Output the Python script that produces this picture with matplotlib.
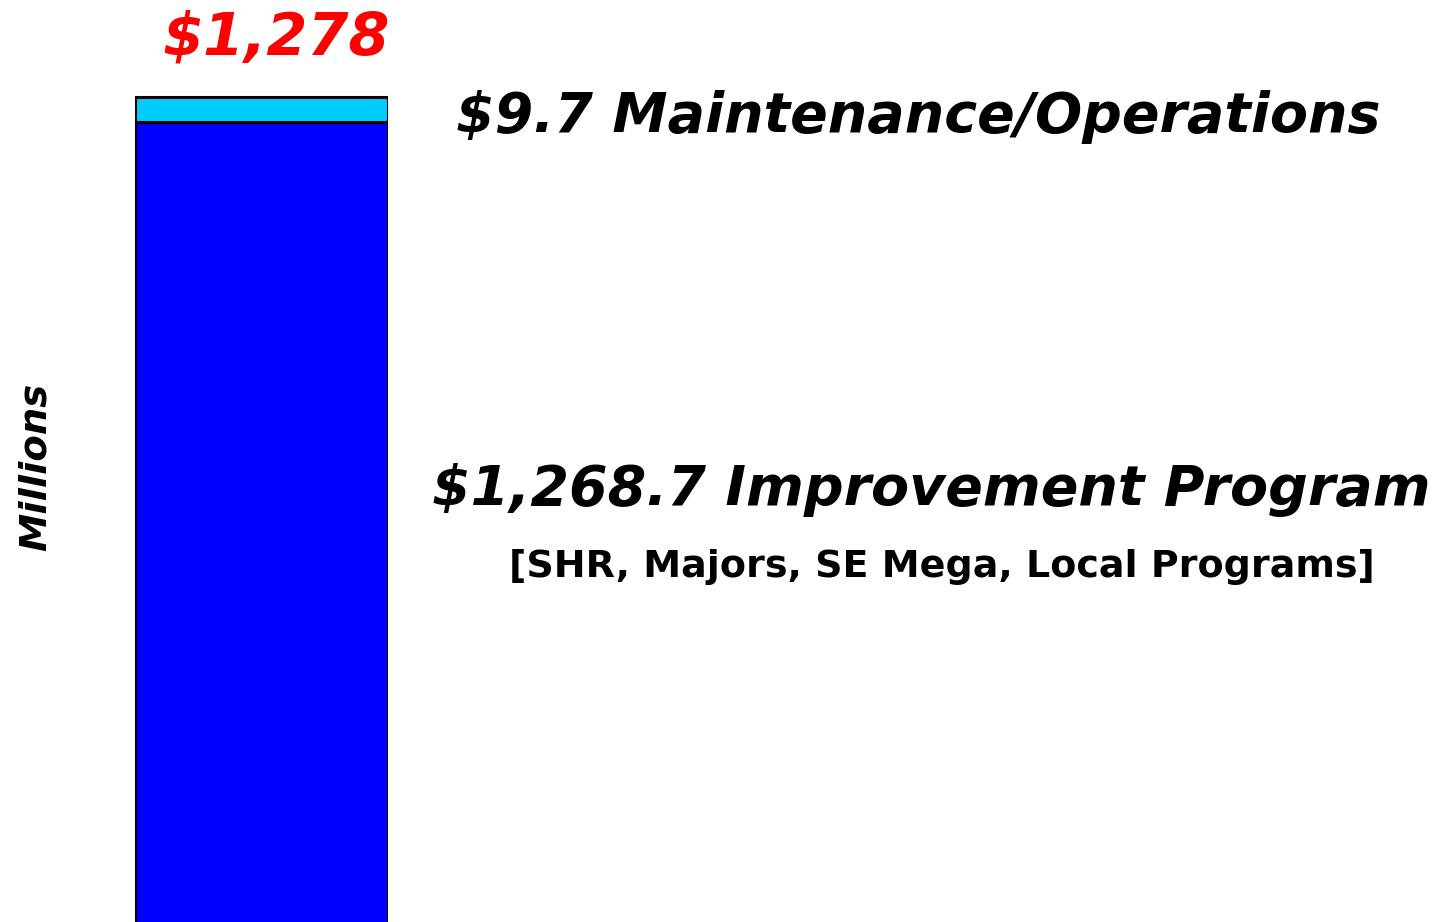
import matplotlib.pyplot as plt

W, H = 1439, 922

segments = ["Improvement Program", "Maintenance/Operations"]
values = [1268.7, 9.7]
colors = ["#0000FF", "#00CCFF"]
total_label = "$1,278"
seg_labels = ["$1,268.7 Improvement Program", "$9.7 Maintenance/Operations"]
sub_label = "[SHR, Majors, SE Mega, Local Programs]"

# axis range that reproduces the cropped view of the original slide
y_lo, y_hi = 958.1, 1316.0

fig = plt.figure(figsize=(W / 100, H / 100), dpi=100)
ax = fig.add_axes([135 / W, 0, 253 / W, 1])
bottom = 0.0
for val, col in zip(values, colors):
    ax.bar(0, val, bottom=bottom, width=1.0, color=col, edgecolor="black", linewidth=2.2)
    bottom += val
ax.set_xlim(-0.5, 0.5)
ax.set_ylim(y_lo, y_hi)
ax.axis("off")

font = "DejaVu Sans"
fig.text(276 / W, 1 - 38 / H, total_label, color="#FF0000", fontsize=42.5, fontweight="bold",
         style="italic", family=font, ha="center", va="center")
fig.text(918 / W, 1 - 117 / H, seg_labels[1], color="black", fontsize=40, fontweight="bold",
         style="italic", family=font, ha="center", va="center")
fig.text(931 / W, 1 - 490 / H, seg_labels[0], color="black", fontsize=40, fontweight="bold",
         style="italic", family=font, ha="center", va="center")
fig.text(942 / W, 1 - 567 / H, sub_label, color="black", fontsize=27.4, fontweight="bold",
         family=font, ha="center", va="center")
fig.text(36 / W, 1 - 467 / H, "Millions", color="black", fontsize=27.7, fontweight="bold",
         style="italic", family=font, rotation=90, ha="center", va="center")

fig.savefig("out.png", dpi=100)
